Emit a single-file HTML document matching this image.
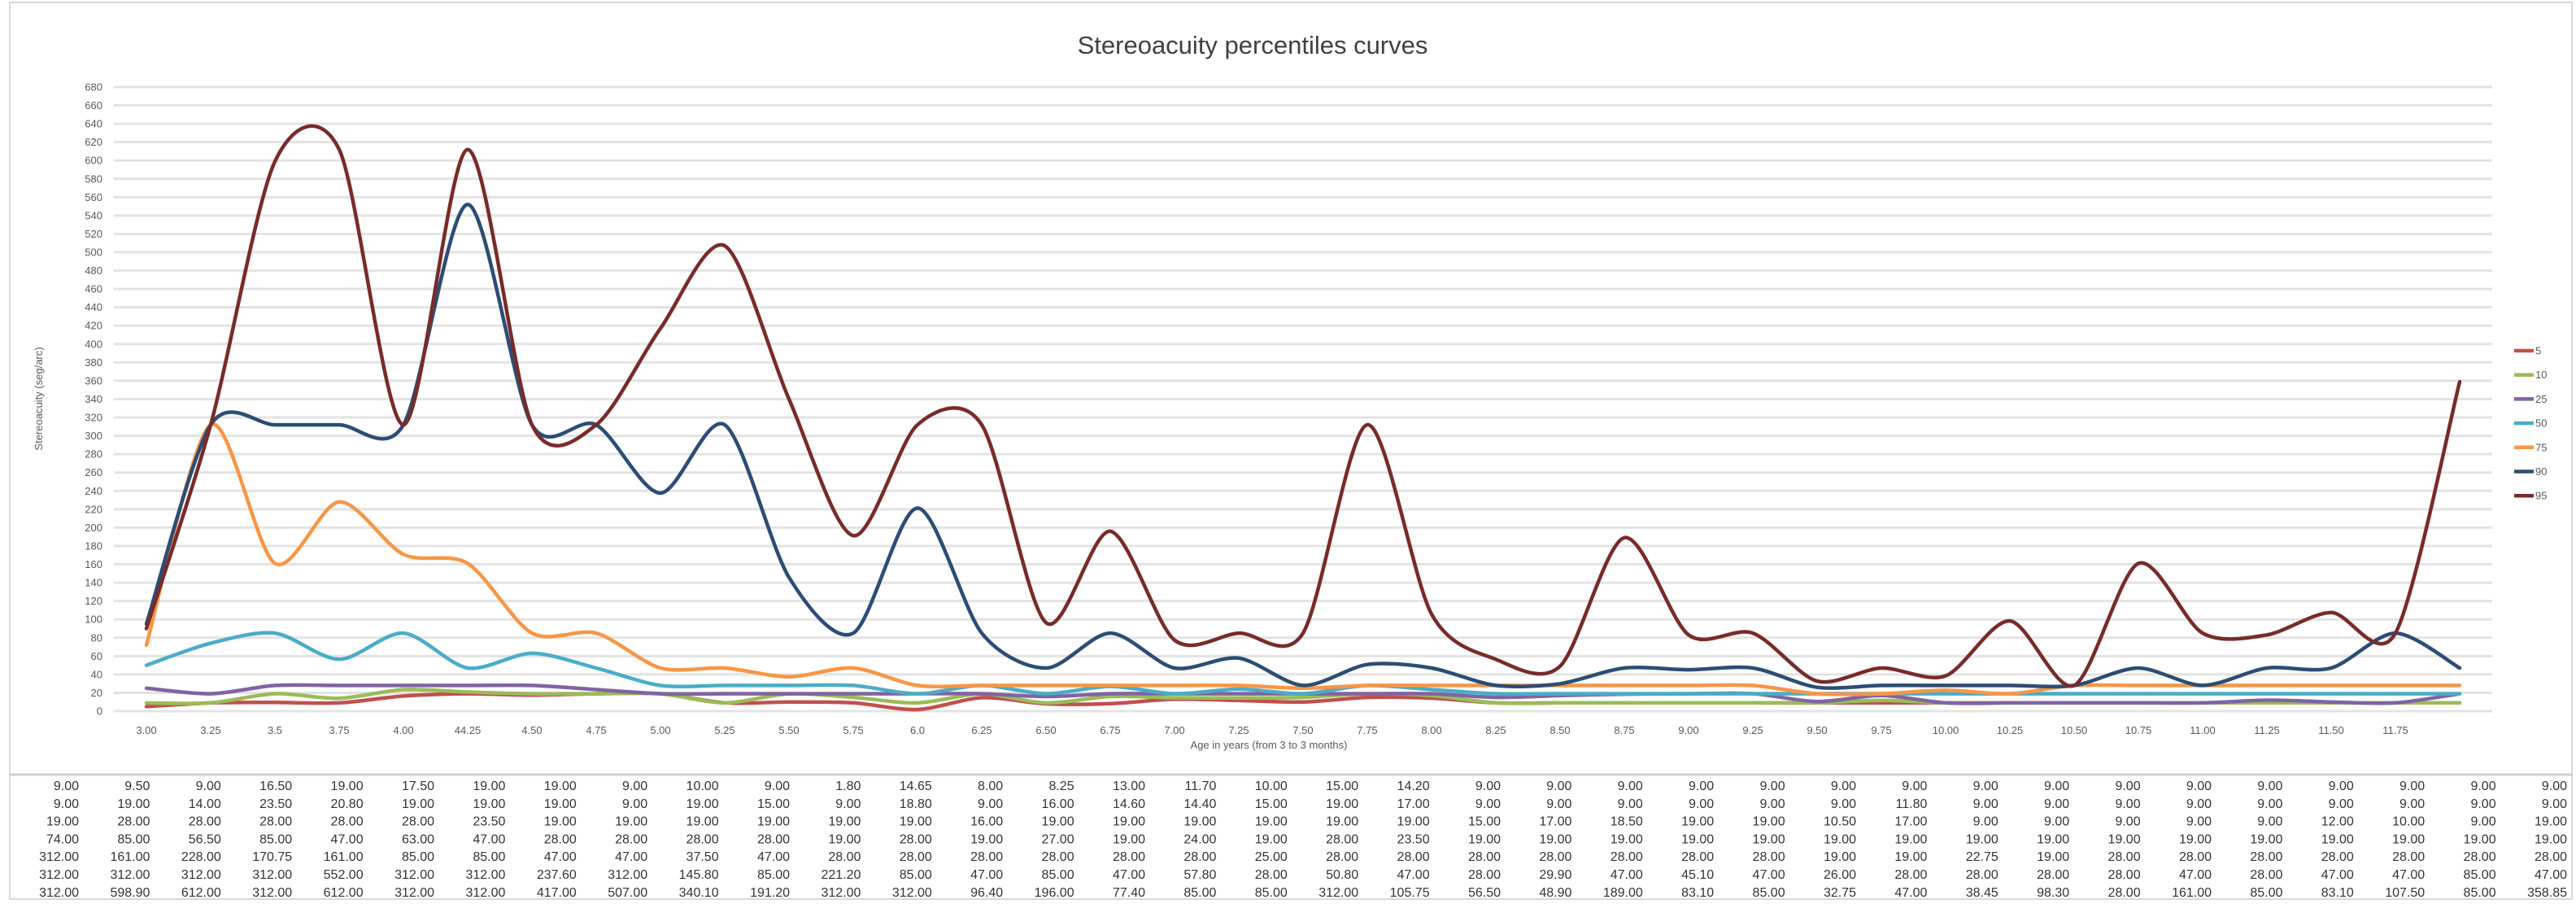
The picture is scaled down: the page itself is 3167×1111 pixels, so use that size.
<!DOCTYPE html>
<html><head><meta charset="utf-8"><title>Stereoacuity percentiles curves</title>
<style>
html,body{margin:0;padding:0;background:#fff;}
svg{display:block;font-family:"Liberation Sans",Arial,sans-serif;}
</style></head>
<body>
<svg id="chart" width="3167" height="1111" viewBox="0 0 3167 1111" xmlns="http://www.w3.org/2000/svg">
  <rect x="12" y="3" width="3150" height="1102" fill="#fff" stroke="#d9d9d9" stroke-width="2"/>
  <line x1="12" y1="952" x2="3162" y2="952" stroke="#d0d0d0" stroke-width="3"/>
  <text x="1540" y="66" font-size="31" fill="#404040" text-anchor="middle">Stereoacuity percentiles curves</text>
  <text x="0" y="0" font-size="13" fill="#595959" text-anchor="middle" transform="translate(52,490) rotate(-90)">Stereoacuity (seg/arc)</text>
  <text x="1560" y="920" font-size="13" fill="#595959" text-anchor="middle">Age in years (from 3 to 3 months)</text>
  <g id="grid"></g>
  <g id="yticks"></g>
  <g id="xticks"></g>
  <g id="series"></g>
  <g id="legend"></g>
  <g id="table"></g>
</svg>
<script>
const categories = ["3.00","3.25","3.5","3.75","4.00","44.25","4.50","4.75","5.00","5.25","5.50","5.75","6.0","6.25","6.50","6.75","7.00","7.25","7.50","7.75","8.00","8.25","8.50","8.75","9.00","9.25","9.50","9.75","10.00","10.25","10.50","10.75","11.00","11.25","11.50","11.75",""];
const yTicks = [0,20,40,60,80,100,120,140,160,180,200,220,240,260,280,300,320,340,360,380,400,420,440,460,480,500,520,540,560,580,600,620,640,660,680];
const seriesNames = ["5","10","25","50","75","90","95"];
const p5  = [5, 9,9.5,9,16.5,19,17.5,19,19,9, 10,9,1.8,14.65,8,8.25,13,11.7,10, 15,14.2,9,9,9,9,9,9,9, 9,9,9,9,9,9,9,9,9];
const p10 = [9, 9,19,14,23.5,20.8,19,19,19,9, 19,15,9,18.8,9,16,14.6,14.4,15, 19,17,9,9,9,9,9,9,11.8, 9,9,9,9,9,9,9,9,9];
const p25 = [25, 19,28,28,28,28,28,23.5,19,19, 19,19,19,19,16,19,19,19,19, 19,19,15,17,18.5,19,19,10.5,17, 9,9,9,9,9,12,10,9,19];
const p50 = [50, 74,85,56.5,85,47,63,47,28,28, 28,28,19,28,19,27,19,24,19, 28,23.5,19,19,19,19,19,19,19, 19,19,19,19,19,19,19,19,19];
const p75 = [72, 312,161,228,170.75,161,85,85,47,47, 37.5,47,28,28,28,28,28,28,25, 28,28,28,28,28,28,28,19,19, 22.75,19,28,28,28,28,28,28,28];
const p90 = [95, 312,312,312,312,552,312,312,237.6,312, 145.8,85,221.2,85,47,85,47,57.8,28, 50.8,47,28,29.9,47,45.1,47,26,28, 28,28,28,47,28,47,47,85,47];
const p95 = [90, 312,598.9,612,312,612,312,312,417,507, 340.1,191.2,312,312,96.4,196,77.4,85,85, 312,105.75,56.5,48.9,189,83.1,85,32.75,47, 38.45,98.3,28,161,85,83.1,107.5,85,358.85];
const allSeries = [p5,p10,p25,p50,p75,p90,p95];
const colors = ["#c0504d","#9bbb59","#8064a2","#4bacc6","#f79646","#2c4d75","#772c2a"];

const NS="http://www.w3.org/2000/svg";
const X0=180, XSTEP=79, Y0=874, YS=1.128, GX1=140, GX2=3064;
function xs(i){return X0+XSTEP*i;}
function ys(v){return Y0-v*YS;}
function mk(tag,attrs,parent,txt){const e=document.createElementNS(NS,tag);for(const k in attrs)e.setAttribute(k,attrs[k]);if(txt!==undefined)e.textContent=txt;parent.appendChild(e);return e;}

const grid=document.getElementById('grid'), yt=document.getElementById('yticks'), xt=document.getElementById('xticks');
yTicks.forEach(v=>{
  const l=mk('line',{x1:GX1,x2:GX2,y1:ys(v),y2:ys(v),stroke:'#e3e3e3','stroke-width':3},grid);
  
  
  const t=mk('text',{x:126,y:ys(v)+4.5,'font-size':13,fill:'#595959','text-anchor':'end'},yt,String(v));
  
  
});
categories.forEach((c,i)=>{
  if(!c)return;
  const t=mk('text',{x:xs(i),y:902,'font-size':13,fill:'#595959','text-anchor':'middle'},xt,c);
  
  
});
function smoothPath(vals){
  const pts=vals.map((v,i)=>[xs(i),ys(v)]);
  const K=7;
  let d='M'+pts[0][0]+','+pts[0][1];
  for(let i=0;i<pts.length-1;i++){
    const p0=pts[i-1]||pts[i],p1=pts[i],p2=pts[i+1],p3=pts[i+2]||pts[i+1];
    const c1=[p1[0]+(p2[0]-p0[0])/K,p1[1]+(p2[1]-p0[1])/K];
    const c2=[p2[0]-(p3[0]-p1[0])/K,p2[1]-(p3[1]-p1[1])/K];
    d+=' C'+c1[0].toFixed(1)+','+c1[1].toFixed(1)+' '+c2[0].toFixed(1)+','+c2[1].toFixed(1)+' '+p2[0].toFixed(1)+','+p2[1].toFixed(1);
  }
  return d;
}
const sg=document.getElementById('series');
allSeries.forEach((s,k)=>{
  const p=mk('path',{d:smoothPath(s),fill:'none',stroke:colors[k],'stroke-width':4.5,'stroke-linejoin':'round','stroke-linecap':'round'},sg);
  
  
});
const lg=document.getElementById('legend');
seriesNames.forEach((n,k)=>{
  const y=431+29.7*k;
  const g=mk('g',{},lg);
  
  
  mk('line',{x1:3091,x2:3115,y1:y,y2:y,stroke:colors[k],'stroke-width':4.5},g);
  mk('text',{x:3117,y:y+4.5,'font-size':13,fill:'#595959'},g,n);
});
const tb=document.getElementById('table');
allSeries.forEach((s,r)=>{
  for(let c=1;c<s.length;c++){
    const t=mk('text',{x:97+87.4*(c-1),y:971+21.8*r,'font-size':16,fill:'#333','text-anchor':'end'},tb,s[c].toFixed(2));
    
    
  }
});
</script>
</body></html>
